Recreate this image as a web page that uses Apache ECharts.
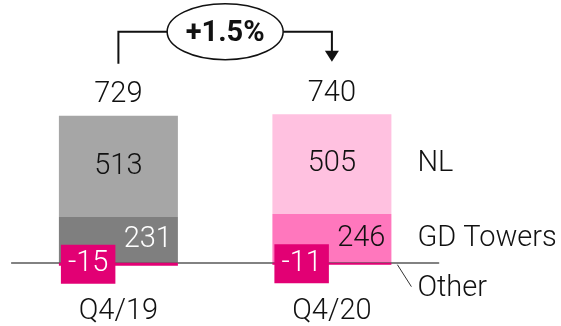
<!DOCTYPE html>
<html><head><meta charset="utf-8">
<script src="https://cdn.jsdelivr.net/npm/echarts@6/dist/echarts.min.js"></script>
<style>html,body{margin:0;padding:0;background:#fff}#c{width:561px;height:326px}</style>
</head><body><div id="c"></div>
<script>
const categories = ['Q4/19', 'Q4/20'];
const nlValues = [513, 505];
const gdValues = [231, 246];
const otherValues = [-15, -11];
const totals = [729, 740];
const segmentNames = ['NL', 'GD Towers', 'Other'];

const nlColors = ['#a6a6a6', '#ffc1e0'];
const gdColors = ['#7f7f7f', '#ff77bd'];
const otherColor = '#e20074';
const gdLabelColors = ['#ffffff', '#111111'];
const TXT = '#111111';
const FONT = 'Roboto, "Liberation Sans", sans-serif';
const FW = 300;
const FS = 29;
const BAR_W = 119;

const chart = echarts.init(document.getElementById('c'), null, {renderer: 'canvas'});

chart.setOption({
  animation: false,
  textStyle: {fontFamily: FONT, fontWeight: FW},
  grid: {left: 11.65, width: 427, top: 65.1, height: 237.1, containLabel: false, outerBoundsMode: 'none'},
  xAxis: {
    type: 'category', data: categories, z: 3,
    axisTick: {show: false},
    axisLine: {onZero: true, lineStyle: {color: '#595959', width: 1.5}},
    axisLabel: {fontSize: FS, color: TXT, fontFamily: FONT, fontWeight: FW, margin: -5, verticalAlign: 'top'}
  },
  yAxis: {type: 'value', min: -200, max: 1000, show: false, splitLine: {show: false}},
  series: [
    {
      name: segmentNames[2], type: 'bar', stack: 's', barWidth: BAR_W, z: 4,
      data: otherValues.map(v => ({value: v, itemStyle: {color: otherColor}})),
      label: {
        show: true, position: 'insideLeft', distance: 2,
        backgroundColor: otherColor, color: '#ffffff', fontSize: FS, fontFamily: FONT, fontWeight: FW,
        lineHeight: FS, padding: [5, 7, 5, 7]
      }
    },
    {
      name: segmentNames[1], type: 'bar', stack: 's', barWidth: BAR_W, z: 2,
      data: gdValues.map((v, i) => ({value: v, itemStyle: {color: gdColors[i]},
        label: {color: gdLabelColors[i]}})),
      label: {show: true, position: 'insideRight', distance: 6, fontSize: FS, fontFamily: FONT, fontWeight: FW}
    },
    {
      name: segmentNames[0], type: 'bar', stack: 's', barWidth: BAR_W, z: 2,
      data: nlValues.map((v, i) => ({value: v, itemStyle: {color: nlColors[i]}})),
      label: {show: true, position: 'inside', color: TXT, fontSize: FS, fontFamily: FONT, fontWeight: FW}
    },
    {
      name: 'Total', type: 'bar', stack: 's', barWidth: BAR_W, z: 2,
      data: totals.map(() => 0),
      itemStyle: {color: 'transparent'},
      label: {show: true, position: 'top', distance: 6, color: TXT, fontSize: FS, fontFamily: FONT, fontWeight: FW,
        formatter: p => String(totals[p.dataIndex])}
    }
  ]
});

// annotations anchored to the chart's own scales
const px = (i, v) => chart.convertToPixel({gridIndex: 0}, [i, v]);
const x1 = px(0, 0)[0], x2 = px(1, 0)[0];
const y0 = px(0, 0)[1];
const top1 = px(0, nlValues[0] + gdValues[0])[1];
const half = BAR_W / 2;
const lineY = top1 - 84;
const startY = top1 - 52;
const cx = (x1 + x2) / 2;
const rx = 58, ry = 28;
const arrowTipY = top1 - 54;
const pct = ((totals[1] / totals[0] - 1) * 100);
const pctText = (pct >= 0 ? '+' : '') + pct.toFixed(1) + '%';
const legX = x2 + half + 26;
const nlMid = px(1, gdValues[1] + nlValues[1] / 2)[1];
const gdMid = px(1, gdValues[1] / 2)[1];
const lineStyle = {stroke: '#111', lineWidth: 2, fill: null};
const font = FW + ' ' + FS + 'px ' + FONT;

chart.setOption({
  graphic: [
    {type: 'polyline', z: 10, shape: {points: [[x1, startY], [x1, lineY], [cx - rx, lineY]]}, style: lineStyle},
    {type: 'polyline', z: 10, shape: {points: [[cx + rx, lineY], [x2, lineY], [x2, arrowTipY - 10]]}, style: lineStyle},
    {type: 'polygon', z: 10, shape: {points: [[x2 - 7, arrowTipY - 11], [x2 + 7, arrowTipY - 11], [x2, arrowTipY]]}, style: {fill: '#111'}},
    {type: 'ellipse', z: 10, shape: {cx: cx, cy: lineY, rx: rx, ry: ry}, style: {fill: '#fff', stroke: '#111', lineWidth: 1.5}},
    {type: 'text', z: 11, x: cx, y: lineY + 2, style: {text: pctText, font: 'bold ' + FS + 'px ' + FONT, fill: TXT, align: 'center', verticalAlign: 'middle'}},
    {type: 'text', z: 11, x: legX, y: nlMid, style: {text: segmentNames[0], font: font, fill: TXT, align: 'left', verticalAlign: 'middle'}},
    {type: 'text', z: 11, x: legX, y: gdMid, style: {text: segmentNames[1], font: font, fill: TXT, align: 'left', verticalAlign: 'middle'}},
    {type: 'line', z: 10, shape: {x1: x2 + half + 6, y1: y0 + 2, x2: x2 + half + 20, y2: y0 + 24}, style: {stroke: '#333', lineWidth: 1}},
    {type: 'text', z: 11, x: legX, y: y0 + 26, style: {text: segmentNames[2], font: font, fill: TXT, align: 'left', verticalAlign: 'middle'}}
  ]
});
</script>
</body></html>
